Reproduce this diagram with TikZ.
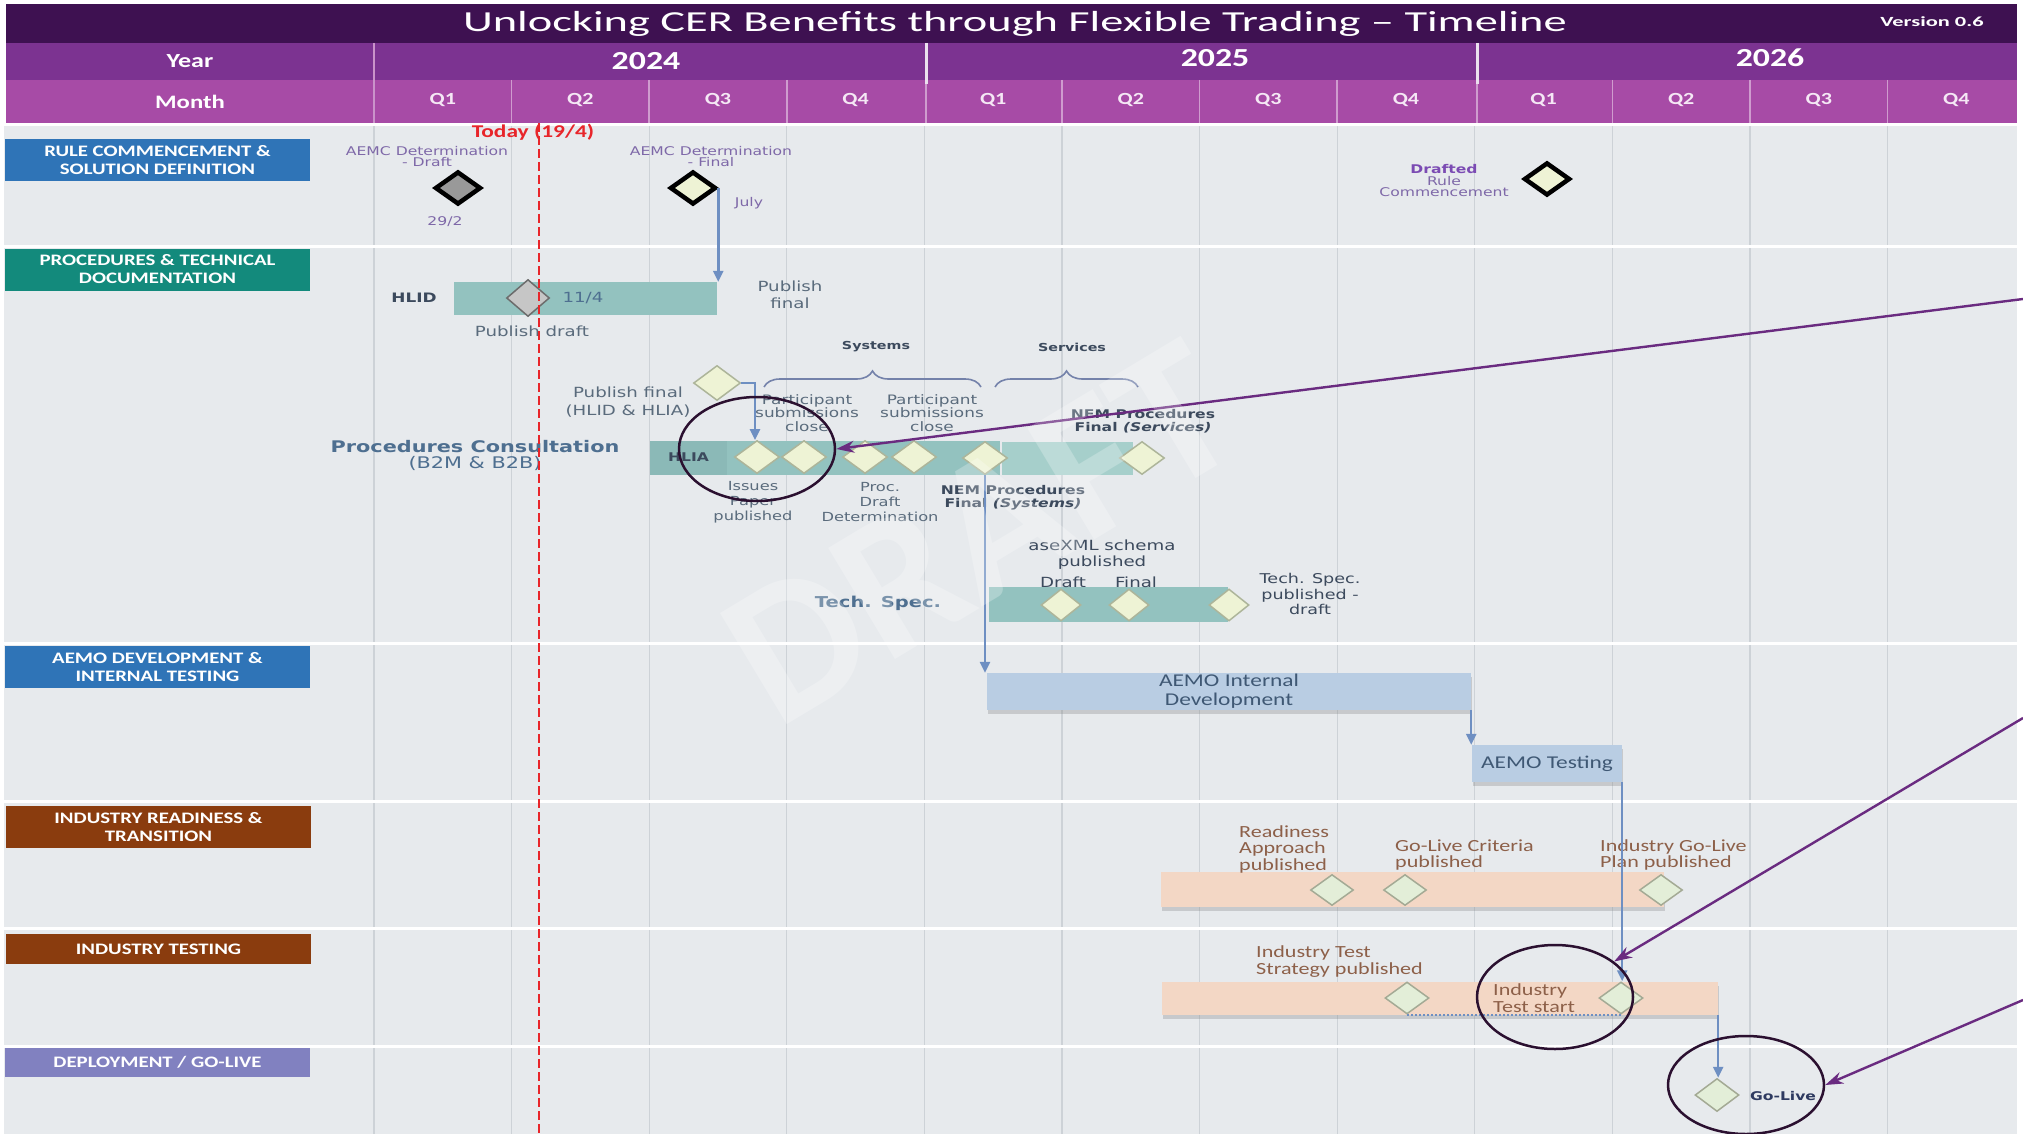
\documentclass[tikz,border=0pt]{standalone}
\usepackage{fontspec}
\setmainfont{Carlito}[FakeStretch=1.3]
\newfontfamily\tfont{Carlito}[FakeStretch=1.6]
\newfontfamily\vfont{DejaVu Sans}[FakeStretch=1.3]
\newfontfamily\wfont{Carlito}
\usetikzlibrary{shapes.geometric,arrows.meta,decorations.pathreplacing,shadows,calc}
\newcommand{\myfs}[2]{\fontsize{#1}{#2}\selectfont}
\definecolor{cTitle}{HTML}{3E1151}
\definecolor{cYear}{HTML}{7C3391}
\definecolor{cMonth}{HTML}{A74BA6}
\definecolor{cBody}{HTML}{E7EAED}
\definecolor{cGrid}{HTML}{CDD2D7}
\definecolor{cSecBlue}{HTML}{2F74B7}
\definecolor{cSecTeal}{HTML}{138A7C}
\definecolor{cSecBrown}{HTML}{8A3C0E}
\definecolor{cSecLav}{HTML}{8181C0}
\definecolor{cToday}{HTML}{E8252A}
\definecolor{cPurpleTxt}{HTML}{7E68A8}
\definecolor{cDrafted}{HTML}{7B4BB3}
\definecolor{cSlate}{HTML}{5A6B7C}
\definecolor{cDark}{HTML}{3C4A5D}
\definecolor{cSteel}{HTML}{4E6F90}
\definecolor{cTeal}{HTML}{93C2BF}
\definecolor{cTealL}{HTML}{A6CFCB}
\definecolor{cTealD}{HTML}{8BB9B7}
\definecolor{cDiaFill}{HTML}{EEF3D5}
\definecolor{cDiaDraw}{HTML}{ADB59A}
\definecolor{cAemo}{HTML}{B9CDE3}
\definecolor{cAemoTxt}{HTML}{3F5874}
\definecolor{cInd}{HTML}{F3D7C5}
\definecolor{cIndTxt}{HTML}{8D6049}
\definecolor{cIndDia}{HTML}{E3EED8}
\definecolor{cFlow}{HTML}{6E8FC2}
\definecolor{cPointer}{HTML}{6A2B80}
\definecolor{cEll}{HTML}{2B1030}
\definecolor{cGoLive}{HTML}{2E3A60}
\definecolor{cBrace}{HTML}{7482AA}
\definecolor{cQ}{HTML}{F5E8F5}
\begin{document}
\begin{tikzpicture}[x=1pt,y=-1pt,
  sec/.style={rectangle, inner sep=0pt, minimum width=305pt, minimum height=42pt, text=white, font=\bfseries\myfs{16}{18}, align=center},
  txt/.style={inner sep=0pt, align=center},
  rdia/.style={diamond, draw=black, line width=4.5pt, minimum width=46pt, minimum height=33pt, inner sep=0pt},
  dia/.style={diamond, draw=cDiaDraw, fill=cDiaFill, line width=1.5pt, minimum width=45pt, minimum height=33pt, inner sep=0pt},
  idia/.style={dia, fill=cIndDia, draw=cDiaDraw!80!gray},
  bar/.style={rectangle, inner sep=0pt},
  aemobar/.style={bar, fill=cAemo, text=cAemoTxt, align=center, font=\myfs{18}{19}, drop shadow={shadow xshift=1pt, shadow yshift=-4pt, opacity=0.3}},
  indbar/.style={bar, fill=cInd, drop shadow={shadow xshift=1pt, shadow yshift=-4pt, opacity=0.3}},
  flow/.style={draw=cFlow, line width=2.5pt, -{Triangle[length=11pt,width=10pt]}},
  pointer/.style={draw=cPointer, line width=2.4pt, -{Stealth[length=18pt,width=12pt]}},
  ring/.style={ellipse, draw=cEll, line width=2.5pt, inner sep=0pt},
  hdr/.style={inner sep=0pt, text=white},
  qlab/.style={inner sep=0pt, text=cQ, font=\bfseries\myfs{17}{17}},
  brc/.style={draw=cBrace, line width=1.6pt, decorate, decoration={brace, amplitude=16pt}}
]
\useasboundingbox (0,0) rectangle (2023,1134);
\fill[white] (0,0) rectangle (2023,1134);
% body
\fill[cBody] (4,123) rectangle (2017,1134);
\foreach \k in {0,...,11} \draw[cGrid, line width=1.2pt] ({374+137.6*\k},123) -- ({374+137.6*\k},1134);
\foreach \y in {125,246,643,801,928,1046} \draw[white, line width=3pt] (4,\y) -- (2017,\y);
% header
\fill[cTitle] (6,4) rectangle (2017,43);
\fill[cYear] (6,43) rectangle (2017,80);
\fill[cMonth] (6,80) rectangle (2017,123);
\draw[cMonth!60!white, line width=2pt] (374,43) -- (374,123);
\foreach \k in {1,2,3,5,6,7,9,10,11} \draw[cMonth!55!white, line width=1.5pt] ({374+137.6*\k},80) -- ({374+137.6*\k},123);
\draw[white!85!cYear, line width=3pt] (926,43) -- (926,84);
\draw[white!85!cYear, line width=3pt] (1477,43) -- (1477,84);
\draw[cMonth!55!white, line width=1.5pt] (926,84) -- (926,123);
\draw[cMonth!55!white, line width=1.5pt] (1477,84) -- (1477,123);
\node[hdr, font=\tfont\myfs{29}{29}] (title) at (1015,24) {Unlocking CER Benefits through Flexible Trading – Timeline};
\node[hdr, font=\tfont\bfseries\myfs{14}{14}] (ver) at (1932,22) {Version 0.6};
\node[hdr, font=\bfseries\myfs{20}{20}] (hyear) at (190,61) {Year};
\node[hdr, font=\bfseries\myfs{19}{19}] (hmonth) at (190,102) {Month};
\node[hdr, font=\bfseries\myfs{26}{26}] (y24) at (646,61) {2024};
\node[hdr, font=\bfseries\myfs{26}{26}] (y25) at (1215,58) {2025};
\node[hdr, font=\bfseries\myfs{26}{26}] (y26) at (1770,58) {2026};
\foreach \q [count=\i from 0] in {Q1,Q2,Q3,Q4,Q1,Q2,Q3,Q4,Q1,Q2,Q3,Q4}
  \node[qlab] (q\i) at ({374+137.6*(\i+0.5)},100) {\q};
% section labels
\node[sec, fill=cSecBlue] (s1) at (157.5,160) {RULE COMMENCEMENT \&\\SOLUTION DEFINITION};
\node[sec, fill=cSecTeal] (s2) at (157.5,269.5) {PROCEDURES \& TECHNICAL\\DOCUMENTATION};
\node[sec, fill=cSecBlue] (s3) at (157.5,667) {AEMO DEVELOPMENT \&\\INTERNAL TESTING};
\node[sec, fill=cSecBrown] (s4) at (158.5,827) {INDUSTRY READINESS \&\\TRANSITION};
\node[sec, fill=cSecBrown, minimum height=30pt] (s5) at (158.5,949) {INDUSTRY TESTING};
\node[sec, fill=cSecLav, minimum height=29pt] (s6) at (157.5,1062.5) {DEPLOYMENT / GO-LIVE};
% row 1
\node[txt, text=cPurpleTxt, font=\vfont\myfs{12}{11}] (tAD) at (427,157) {AEMC Determination\\- Draft};
\node[rdia, fill=gray!80] (dAD) at (458,188) {};
\node[txt, text=cPurpleTxt, font=\vfont\myfs{12}{12}] (t292) at (445,222) {29/2};
\node[txt, text=cPurpleTxt, font=\vfont\myfs{12}{11}] (tAF) at (711,157) {AEMC Determination\\- Final};
\node[rdia, fill=cDiaFill] (dAF) at (693,188) {};
\node[txt, text=cPurpleTxt, font=\vfont\myfs{12}{12}] (tJuly) at (749,203) {July};
\node[txt, text=cPurpleTxt, font=\vfont\myfs{12}{11.5}] (tDR) at (1444,181) {\textcolor{cDrafted}{\bfseries Drafted}\\Rule\\Commencement};
\node[rdia, fill=cDiaFill] (dDR) at (1547,179) {};
% row 2 : HLID
\node[txt, text=cDark, font=\vfont\bfseries\myfs{13}{13}] (tHLID) at (414,298) {HLID};
\node[bar, fill=cTeal, minimum width=263pt, minimum height=33pt] (hlid) at (585.5,298.5) {};
\node[diamond, draw=gray!85!black, fill=gray!45, line width=1.5pt, minimum width=43pt, minimum height=37pt, inner sep=0pt] (dHD) at (528,298) {};
\node[txt, text=cSteel, font=\vfont\myfs{14}{14}] (t114) at (583,298) {11/4};
\node[txt, text=cSlate, font=\vfont\myfs{14}{14}] (tPD) at (532,331) {Publish draft};
\node[txt, text=cSlate, font=\vfont\myfs{14}{17}] (tPF1) at (790,295) {Publish\\final};
% consultation
\node[txt, text=cDark, font=\vfont\bfseries\myfs{11}{11}] (tSys) at (876,347) {Systems};
\node[txt, text=cDark, font=\vfont\bfseries\myfs{11}{11}] (tSer) at (1072,347) {Services};
\draw[brc] (764,387) -- (981,387);
\draw[brc] (995,387) -- (1138,387);
\node[txt, text=cSlate, font=\vfont\myfs{14}{18}] (tPF2) at (628,402) {Publish final\\(HLID \& HLIA)};
\node[dia, minimum width=47pt, minimum height=35pt] (dPF) at (717,383) {};
\node[txt, text=cSlate, font=\vfont\myfs{13}{13.5}] (tPart1) at (807,413) {Participant\\submissions\\close};
\node[txt, text=cSlate, font=\vfont\myfs{13}{13.5}] (tPart2) at (932,413) {Participant\\submissions\\close};
\node[txt, text=cDark, font=\vfont\bfseries\myfs{12}{13}] (tNEMser) at (1143,421) {NEM Procedures\\Final \textit{(Services)}};
\node[txt, text=cSteel, font=\vfont\myfs{16}{16}] (tPC) at (475,455) {\textbf{Procedures Consultation}\\(B2M \& B2B)};
\node[bar, fill=cTeal, minimum width=273pt, minimum height=34pt] (cbar1) at (863.5,457.5) {};
\node[bar, fill=cTealL, minimum width=131pt, minimum height=33pt] (cbar2) at (1067.5,458.5) {};
\node[bar, fill=cTealD, minimum width=77pt, minimum height=34pt, text=cDark, font=\vfont\bfseries\myfs{12}{12}] (hlia) at (688.5,457.5) {HLIA};
\node[dia] (dIP1) at (757,457) {};
\node[dia] (dIP2) at (804,457) {};
\node[dia] (dPC1) at (865,457) {};
\node[dia] (dPC2) at (914,457) {};
\node[dia] (dNS) at (985,458) {};
\node[dia] (dNV) at (1142,458) {};
\node[txt, text=cSlate, font=\vfont\myfs{12.5}{15}] (tIss) at (753,502) {Issues\\Paper\\published};
\node[txt, text=cSlate, font=\vfont\myfs{12.5}{15}] (tPDD) at (880,502) {Proc.\\Draft\\Determination};
\node[txt, text=cDark, font=\vfont\bfseries\myfs{12}{13}] (tNEMsys) at (1013,498) {NEM Procedures\\Final \textit{(Systems)}};
% tech spec
\node[txt, text=cSteel, font=\vfont\bfseries\myfs{15}{15}] (tTS) at (878,603) {Tech. Spec.};
\node[bar, fill=cTeal, minimum width=239pt, minimum height=35pt] (tsbar) at (1108.5,604.5) {};
\node[dia, minimum width=40pt, minimum height=32pt] (dX1) at (1061,605) {};
\node[dia, minimum width=40pt, minimum height=32pt] (dX2) at (1129,605) {};
\node[dia, minimum width=40pt, minimum height=32pt] (dX3) at (1229,605) {};
\node[txt, text=cDark, font=\vfont\myfs{14}{16}] (tAse) at (1102,555) {aseXML schema\\published};
\node[txt, text=cDark, font=\vfont\myfs{14}{14}] (tXD) at (1063,582) {Draft};
\node[txt, text=cDark, font=\vfont\myfs{14}{14}] (tXF) at (1136,582) {Final};
\node[txt, text=cDark, font=\vfont\myfs{13.5}{15.5}] (tTSP) at (1310,594) {Tech. Spec.\\published -\\draft};
% AEMO
\node[aemobar, minimum width=484pt, minimum height=37pt] (adev) at (1229,691.5) {AEMO Internal\\Development};
\node[aemobar, minimum width=150pt, minimum height=37pt] (atest) at (1547,763.5) {AEMO Testing};
% industry readiness
\node[indbar, minimum width=503pt, minimum height=35pt] (irbar) at (1412.5,889.5) {};
\node[idia, minimum width=43pt, minimum height=31pt] (dRA) at (1332,890) {};
\node[idia, minimum width=43pt, minimum height=31pt] (dGC) at (1405,890) {};
\node[idia, minimum width=43pt, minimum height=31pt] (dGP) at (1661,890) {};
\node[txt, anchor=west, align=left, text=cIndTxt, font=\myfs{17}{16.5}] (tRA) at (1239,849) {Readiness\\Approach\\published};
\node[txt, anchor=west, align=left, text=cIndTxt, font=\myfs{17}{16}] (tGC) at (1395,855) {Go-Live Criteria\\published};
\node[txt, anchor=west, align=left, text=cIndTxt, font=\myfs{17}{16}] (tGP) at (1600,855) {Industry Go-Live\\Plan published};
% industry testing
\node[indbar, minimum width=556pt, minimum height=33pt] (itbar) at (1440,998.5) {};
\node[idia, minimum width=44pt, minimum height=32pt] (dITSP) at (1407,998) {};
\node[idia, minimum width=44pt, minimum height=32pt] (dITS) at (1621,998) {};
\node[txt, anchor=west, align=left, text=cIndTxt, font=\myfs{17}{17}] (tITSP) at (1256,961.5) {Industry Test\\Strategy published};
\node[txt, anchor=west, align=left, text=cIndTxt, font=\myfs{17}{17}] (tITS) at (1493,998.5) {Industry\\Test start};
\draw[cFlow, line width=2pt, dotted] (dITSP.south) -- (dITS.south);
% go-live
\node[idia, minimum width=44pt, minimum height=33pt] (dGL) at (1717,1095) {};
\node[txt, text=cGoLive, font=\vfont\bfseries\myfs{12}{12}] (tGL) at (1783,1096) {Go-Live};
% flow connectors
\coordinate (c1) at (755,440);
\draw[flow] (dAF.east) -- (dAF.east |- hlid.north);
\draw[flow] (dPF.east) -| (c1);
\draw[flow] (dNS.south) -- (dNS.south |- adev.north);
\draw[flow] (adev.south east) -- (adev.south east |- atest.north);
\draw[flow] (atest.south east) -- (atest.south east |- dITS.north);
\draw[flow] (itbar.south east) -- (itbar.south east |- dGL.north);
% today line
\coordinate (td1) at (539,123);
\coordinate (td2) at (539,1134);
\draw[cToday, line width=2.5pt, dash pattern=on 9pt off 4pt] (td1) -- (td2);
\node[txt, text=cToday, font=\bfseries\myfs{18}{18}] (tToday) at (533,132) {Today (19/4)};
% rings and pointers
\node[ring, minimum width=156pt, minimum height=104pt] (e1) at (757,449) {};
\node[ring, minimum width=156pt, minimum height=104pt] (e2) at (1555,997) {};
\node[ring, minimum width=156pt, minimum height=98pt] (e3) at (1746,1085) {};
\coordinate (p1) at (2023,299);
\coordinate (p2) at (2023,718);
\coordinate (p3) at (2023,1000);
\draw[pointer] (p1) -- (e1.east);
\draw[pointer] (p2) -- (e2.31);
\draw[pointer] (p3) -- (e3.east);
% watermark
\node[txt, rotate=31, text=white, opacity=0.25, font=\wfont\bfseries\myfs{200}{200}] (wm) at (980,533) {DRAFT};
\end{tikzpicture}
\end{document}
